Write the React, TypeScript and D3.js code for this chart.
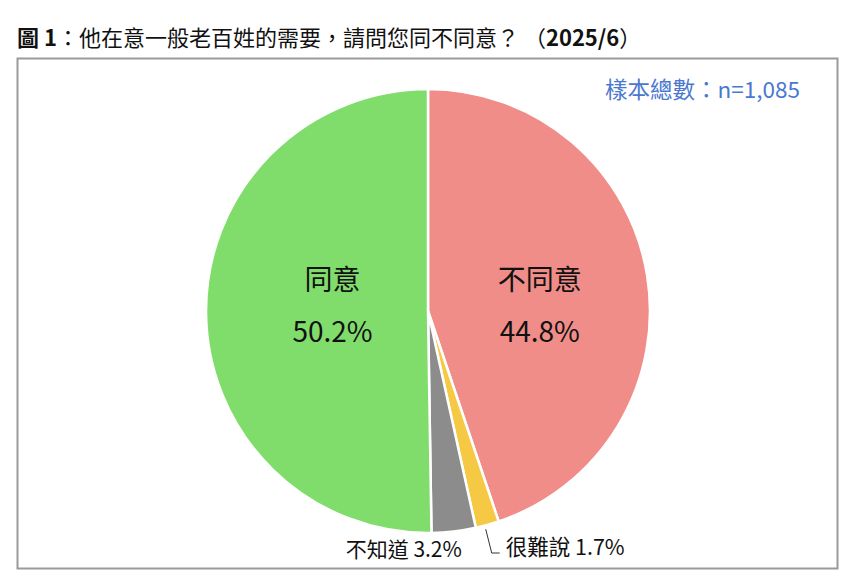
import { useEffect, useRef } from "react";
import * as d3 from "d3";

const categories = ["不同意", "很難說", "不知道", "同意"];
const values = [44.8, 1.7, 3.2, 50.2];
const colors = ["#F08D89", "#F6C945", "#8C8C8C", "#80DD6B"];
const sampleText = "樣本總數：n=1,085";

const W = 856;
const H = 572;
const FONT = "'Noto Sans CJK TC', 'Noto Sans', sans-serif";

export default function App() {
  const svgRef = useRef<SVGSVGElement>(null);

  useEffect(() => {
    if (!svgRef.current) return;
    const svg = d3.select(svgRef.current);
    svg.selectAll("*").remove();

    svg.append("rect").attr("width", W).attr("height", H).attr("fill", "#fff");

    // Title
    const title = svg
      .append("text")
      .attr("x", 17)
      .attr("y", 46)
      .style("font-family", FONT)
      .style("font-size", "22px")
      .attr("fill", "#111");
    title.append("tspan").attr("font-weight", "bold").text("圖 1");
    title.append("tspan").text("：他在意一般老百姓的需要，請問您同不同意？ （");
    title.append("tspan").attr("font-weight", "bold").text("2025/6");
    title.append("tspan").text("）");

    // Frame
    svg
      .append("rect")
      .attr("x", 17.5)
      .attr("y", 58.5)
      .attr("width", 820)
      .attr("height", 510)
      .attr("fill", "none")
      .attr("stroke", "#9a9a9a")
      .attr("stroke-width", 2);

    svg
      .append("text")
      .attr("x", 800)
      .attr("y", 98)
      .attr("text-anchor", "end")
      .style("font-family", FONT)
      .style("font-size", "22.5px")
      .attr("fill", "#4A78D0")
      .text(sampleText);

    const cx = 428;
    const cy = 311;
    const r = 222;

    const pie = d3
      .pie<number>()
      .sort(null)
      .value((d) => d);
    const arcs = pie(values);
    const arc = d3.arc<d3.PieArcDatum<number>>().innerRadius(0).outerRadius(r);

    const g = svg.append("g").attr("transform", `translate(${cx},${cy})`);
    g.selectAll("path")
      .data(arcs)
      .join("path")
      .attr("d", arc)
      .attr("fill", (_, i) => colors[i])
      .attr("stroke", "#fff")
      .attr("stroke-width", 2.5);

    // Inside labels for the big slices
    const labelPos: Record<number, number> = { 0: 1.02, 3: 0.86 };
    [0, 3].forEach((i) => {
      const [lx] = arc.centroid(arcs[i]);
      const x = lx * labelPos[i];
      const t = g
        .append("text")
        .attr("text-anchor", "middle")
        .style("font-family", FONT)
        .style("font-size", "28px")
        .attr("fill", "#111");
      t.append("tspan").attr("x", x).attr("y", -21).text(categories[i]);
      t.append("tspan").attr("x", x).attr("y", 31).text(values[i].toFixed(1) + "%");
    });

    // 不知道 label below
    const gray = arcs[2];
    const grayMid = (gray.startAngle + gray.endAngle) / 2;
    g.append("text")
      .attr("x", Math.sin(grayMid) * r - 50)
      .attr("y", 246)
      .attr("text-anchor", "middle")
      .style("font-family", FONT)
      .style("font-size", "21px")
      .attr("fill", "#111")
      .text(`${categories[2]} ${values[2].toFixed(1)}%`);

    // 很難說 leader + label
    const yel = arcs[1];
    const yMid = (yel.startAngle + yel.endAngle) / 2;
    const px = Math.sin(yMid) * (r - 6);
    const py = -Math.cos(yMid) * (r - 6);
    g.append("path")
      .attr("d", `M${px},${py + 10}L${px + 6},${242}L${px + 14},${242}`)
      .attr("fill", "none")
      .attr("stroke", "#333")
      .attr("stroke-width", 1);
    g.append("text")
      .attr("x", px + 20)
      .attr("y", 244)
      .style("font-family", FONT)
      .style("font-size", "21.5px")
      .attr("fill", "#111")
      .text(`${categories[1]} ${values[1].toFixed(1)}%`);
  }, []);

  return (
    <svg
      ref={svgRef}
      width={W}
      height={H}
      style={{ position: "fixed", top: 0, left: 0, display: "block" }}
    />
  );
}
